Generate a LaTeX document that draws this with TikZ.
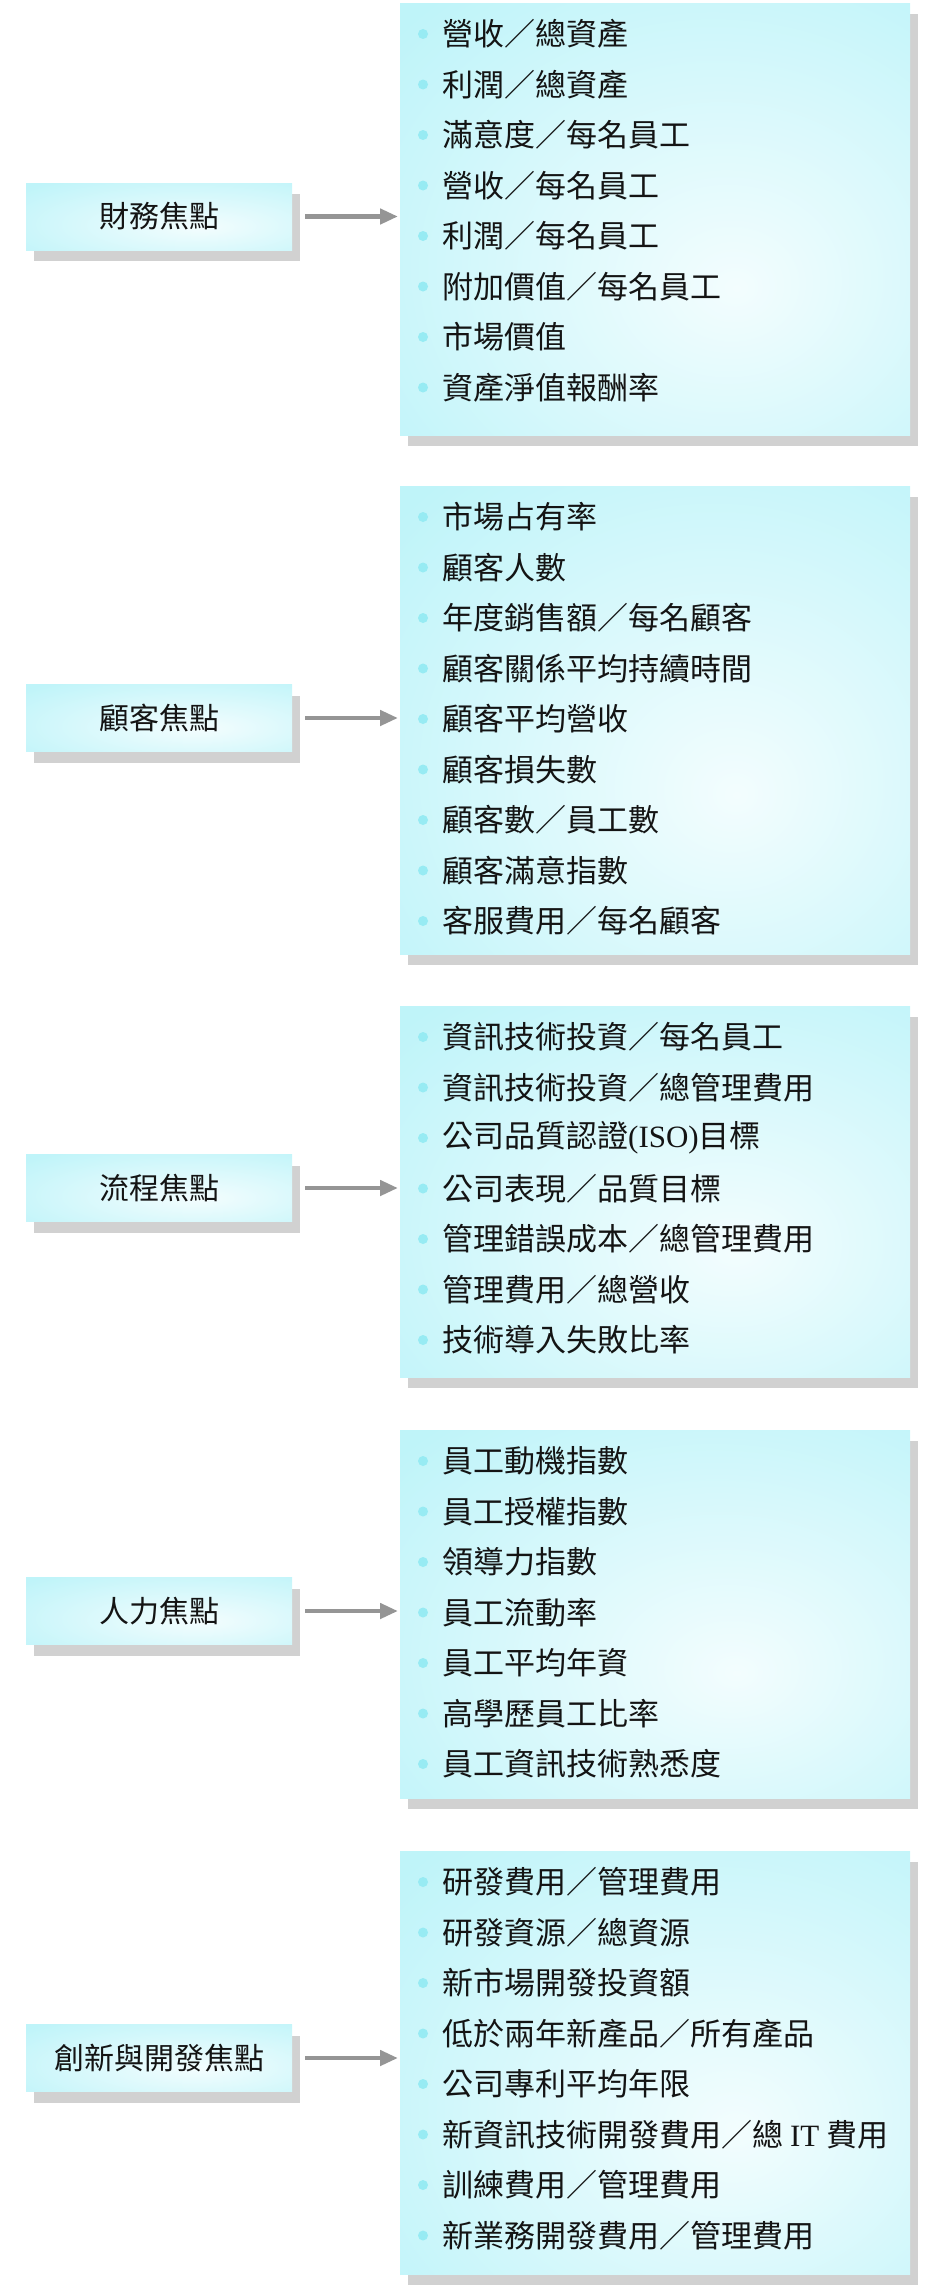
\documentclass[tikz,border=0pt]{standalone}
\usepackage{fontspec}
\setmainfont{Liberation Serif}
\newfontfamily\cjk{Noto Sans CJK TC}
\usepackage{tikz}
\usetikzlibrary{
arrows.meta,
positioning,
shadows,
fadings,
calc
}
\definecolor{KPICyan}{HTML}{BFF4F9}
\definecolor{KPIGlow}{HTML}{F3FDFE}
\definecolor{KPIDot}{HTML}{97EBF3}
\definecolor{KPIArrow}{HTML}{959595}
\definecolor{KPIShade}{HTML}{5A5A5A}
\definecolor{KPIText}{HTML}{141414}
\pgfdeclareradialshading{kpiglow}{\pgfpoint{8bp}{-8bp}}{
  color(0bp)=(KPIGlow); color(40bp)=(KPICyan); color(100bp)=(KPICyan)}
\tikzset{
kpishadow/.style={drop shadow={shadow xshift=8pt, shadow yshift=-11pt,
  fill=KPIShade, opacity=0.28}},
kpilabel/.style={shade, shading=kpiglow, minimum width=266pt, minimum height=67pt,
  inner sep=0pt, text=KPIText, font=\cjk\fontsize{30}{36}\selectfont, kpishadow},
kpilist/.style={shade, shading=kpiglow, anchor=north west, minimum width=510pt,
  inner sep=0pt, kpishadow},
kpiitem/.style={anchor=west, inner sep=0pt, text=KPIText,
  font=\cjk\fontsize{31}{37}\selectfont},
kpidot/.style={circle, fill=KPIDot, inner sep=0pt, minimum size=10pt},
kpiarrow/.style={-{Triangle[length=18pt, width=15pt]}, line width=4.5pt, draw=KPIArrow}
}

\begin{document}
\begin{tikzpicture}[x=1pt, y=-1pt]
\useasboundingbox (0,0) rectangle (929,2291);

% focus labels
\node[kpilabel] (fin) at (159,216.5) {財務焦點};
\node[kpilabel] (cust) at (159,718) {顧客焦點};
\node[kpilabel] (proc) at (159,1188) {流程焦點};
\node[kpilabel] (hr) at (159,1611) {人力焦點};
\node[kpilabel] (rnd) at (159,2058) {創新與開發焦點};

% indicator boxes
\node[kpilist, minimum height=432pt] (finlist) at (400,3) {};
\node[kpilist, minimum height=468pt] (custlist) at (400,486) {};
\node[kpilist, minimum height=371pt] (proclist) at (400,1006) {};
\node[kpilist, minimum height=368pt] (hrlist) at (400,1430) {};
\node[kpilist, minimum height=423pt] (rndlist) at (400,1851) {};

% indicators
\foreach \txt [count=\i] in {營收／總資產, 利潤／總資產, 滿意度／每名員工, 營收／每名員工,
  利潤／每名員工, 附加價值／每名員工, 市場價值, 資產淨值報酬率} {
  \node[kpiitem] (fin-\i) at ($(finlist.north west)+(42,{31+50.5*(\i-1)})$) {\txt};
  \node[kpidot] (fin-\i-dot) at ($(fin-\i.west)+(-19,0)$) {};
}
\foreach \txt [count=\i] in {市場占有率, 顧客人數, 年度銷售額／每名顧客, 顧客關係平均持續時間,
  顧客平均營收, 顧客損失數, 顧客數／員工數, 顧客滿意指數, 客服費用／每名顧客} {
  \node[kpiitem] (cust-\i) at ($(custlist.north west)+(42,{31+50.5*(\i-1)})$) {\txt};
  \node[kpidot] (cust-\i-dot) at ($(cust-\i.west)+(-19,0)$) {};
}
\foreach \txt [count=\i] in {資訊技術投資／每名員工, 資訊技術投資／總管理費用,
  公司品質認證{\rmfamily (ISO)}目標, 公司表現／品質目標, 管理錯誤成本／總管理費用,
  管理費用／總營收, 技術導入失敗比率} {
  \node[kpiitem] (proc-\i) at ($(proclist.north west)+(42,{31+50.5*(\i-1)})$) {\txt};
  \node[kpidot] (proc-\i-dot) at ($(proc-\i.west)+(-19,0)$) {};
}
\foreach \txt [count=\i] in {員工動機指數, 員工授權指數, 領導力指數, 員工流動率,
  員工平均年資, 高學歷員工比率, 員工資訊技術熟悉度} {
  \node[kpiitem] (hr-\i) at ($(hrlist.north west)+(42,{31+50.5*(\i-1)})$) {\txt};
  \node[kpidot] (hr-\i-dot) at ($(hr-\i.west)+(-19,0)$) {};
}
\foreach \txt [count=\i] in {研發費用／管理費用, 研發資源／總資源, 新市場開發投資額,
  低於兩年新產品／所有產品, 公司專利平均年限, 新資訊技術開發費用／總 {\rmfamily IT} 費用,
  訓練費用／管理費用, 新業務開發費用／管理費用} {
  \node[kpiitem] (rnd-\i) at ($(rndlist.north west)+(42,{31+50.5*(\i-1)})$) {\txt};
  \node[kpidot] (rnd-\i-dot) at ($(rnd-\i.west)+(-19,0)$) {};
}

\draw[kpiarrow] ([xshift=13pt]fin.east) -- ([xshift=-2pt]fin.east -| finlist.west);
\draw[kpiarrow] ([xshift=13pt]cust.east) -- ([xshift=-2pt]cust.east -| custlist.west);
\draw[kpiarrow] ([xshift=13pt]proc.east) -- ([xshift=-2pt]proc.east -| proclist.west);
\draw[kpiarrow] ([xshift=13pt]hr.east) -- ([xshift=-2pt]hr.east -| hrlist.west);
\draw[kpiarrow] ([xshift=13pt]rnd.east) -- ([xshift=-2pt]rnd.east -| rndlist.west);
\end{tikzpicture}
\end{document}
